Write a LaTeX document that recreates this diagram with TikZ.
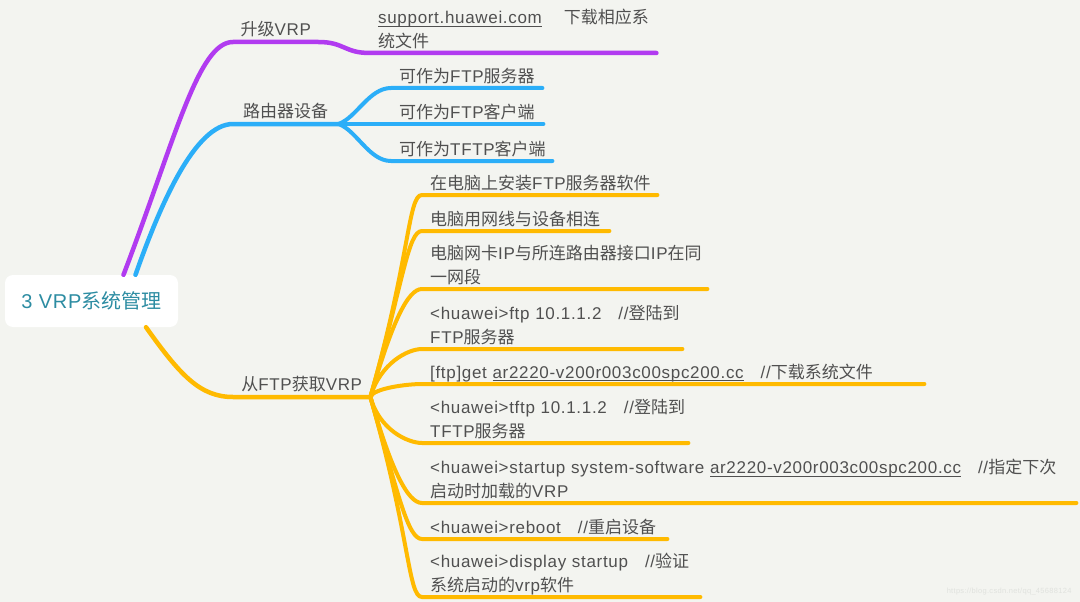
\documentclass[tikz,border=0pt]{standalone}
\usepackage{fontspec}
\setmainfont{Liberation Sans}[LetterSpace=4]
\newfontfamily\hanfont{Noto Sans CJK SC}
\usetikzlibrary{calc}

% han characters go to Noto, everything else stays Liberation
\XeTeXinterchartokenstate=1
\newXeTeXintercharclass\hanclass
\newcount\hanchar
\hanchar="3000
\loop
  \XeTeXcharclass\hanchar=\hanclass
  \advance\hanchar by 1
\ifnum\hanchar<"A000 \repeat
\hanchar="FF00
\loop
  \XeTeXcharclass\hanchar=\hanclass
  \advance\hanchar by 1
\ifnum\hanchar<"FFF0 \repeat
\XeTeXinterchartoks 0 \hanclass = {\hanfont}
\XeTeXinterchartoks 4095 \hanclass = {\hanfont}
\XeTeXinterchartoks \hanclass 0 = {\rmfamily}
\XeTeXinterchartoks \hanclass 4095 = {\rmfamily}
\exhyphenpenalty=10000

\definecolor{bgcol}{HTML}{F3F4F0}
\definecolor{txtcol}{HTML}{505050}
\definecolor{rootcol}{HTML}{2C8CA2}
\definecolor{purcol}{HTML}{B13BF0}
\definecolor{blucol}{HTML}{2BAEF8}
\definecolor{yelcol}{HTML}{FFBA00}
\definecolor{markcol}{HTML}{E0E2DE}

\newcommand\lnk[1]{\setbox0\hbox{#1}\rlap{\rule[-3pt]{\wd0}{1pt}}\box0}
\newcommand\cmtgap{\kern17pt}

\begin{document}
\begin{tikzpicture}[x=1pt,y=-1pt,line cap=round,
  every node/.style={text=txtcol,font=\fontsize{17}{23.5}\selectfont},
  rootbox/.style={fill=white,rounded corners=8pt,minimum width=173pt,
    minimum height=52pt,text=rootcol,font=\fontsize{20}{24}\selectfont},
  branch/.style={anchor=south west,inner xsep=0pt,inner ysep=2.5pt,
    minimum width=#1,execute at end node={\rule[-4pt]{0pt}{4pt}}},
  leaf/.style={anchor=south west,inner xsep=8pt,inner ysep=1.5pt,
    text width=#1,align=left,execute at end node={\rule[-4pt]{0pt}{4pt}}},
  main line/.style={line width=4.5pt},
  leaf line/.style={line width=4pt}]

\useasboundingbox (0,0) rectangle (1080,602);
\fill[bgcol] (0,0) rectangle (1080,602);

\node[rootbox] (root) at (91.5,301) {3 VRP系统管理};

% first level
\node[branch=85pt] (upg) at (233,42) {升级VRP};
\node[branch=105pt] (rtr) at (233,124) {路由器设备};
\node[branch=137pt] (ftp) at (233,397) {从FTP获取VRP};

% leaves
\node[leaf=270pt] (web) at (370,53) {\lnk{support.huawei.com}\kern22pt下载相应系\\统文件};
\node[leaf=135pt] (srv) at (391,88) {可作为FTP服务器};
\node[leaf=136pt] (cli) at (391,124) {可作为FTP客户端};
\node[leaf=145pt] (tcli) at (391,161) {可作为TFTP客户端};

\node[leaf=219pt] (inst) at (422,195) {在电脑上安装FTP服务器软件};
\node[leaf=171pt] (cable) at (422,231) {电脑用网线与设备相连};
\node[leaf=269pt] (subnet) at (422,289) {电脑网卡IP与所连路由器接口IP在同\\一网段};
\node[leaf=244pt] (login) at (422,349) {<huawei>ftp~10.1.1.2\cmtgap//登陆到\\FTP服务器};
\node[leaf=486pt] (get) at (422,384) {[ftp]get~\lnk{ar2220-v200r003c00spc200.cc}\cmtgap//下载系统文件};
\node[leaf=250pt] (tlogin) at (422,443) {<huawei>tftp~10.1.1.2\cmtgap//登陆到\\TFTP服务器};
\node[leaf=638pt] (boot) at (422,503) {<huawei>startup~system-software~\lnk{ar2220-v200r003c00spc200.cc}\cmtgap//指定下次\\启动时加载的VRP};
\node[leaf=229pt] (reboot) at (422,539) {<huawei>reboot\cmtgap//重启设备};
\node[leaf=262pt] (check) at (422,597) {<huawei>display~startup\cmtgap//验证\\系统启动的vrp软件};

% purple branch
\draw[main line,purcol] ([xshift=32pt]root.north) .. controls (175,140) and (198,42) .. (upg.south west)
  -- (upg.south east) .. controls +(26,0) and +(-26,0) .. (web.south west) -- (web.south east);

% blue branch
\draw[main line,blucol] ([xshift=44pt]root.north) .. controls (160,205) and (195,124) .. (rtr.south west) -- (rtr.south east);
\foreach \leaf/\dy in {srv/-6,tcli/6}
  \draw[leaf line,blucol] (rtr.south east) .. controls +(18,\dy) and +(-22,0) .. (\leaf.south west) -- (\leaf.south east);
\draw[leaf line,blucol] (rtr.south east) -- (cli.south west) -- (cli.south east);

% yellow branch
\draw[main line,yelcol] ([xshift=54.5pt]root.south) .. controls (180,375) and (200,397) .. (ftp.south west) -- (ftp.south east);
\foreach \leaf/\dx/\dy in {inst/40/-141,cable/33/-116,subnet/22/-76,login/10/-34,get/3/-9,
  tlogin/9/33,boot/21/74,reboot/28/99,check/40/140}
  \draw[leaf line,yelcol] (ftp.south east) .. controls +(\dx,\dy) and +(-14,0) .. (\leaf.south west) -- (\leaf.south east);

\node[anchor=east,text=markcol,font=\fontsize{7.5}{9}\selectfont] (mark) at (1075,592) {https://blog.csdn.net/qq\_45688124};

\end{tikzpicture}
\end{document}
